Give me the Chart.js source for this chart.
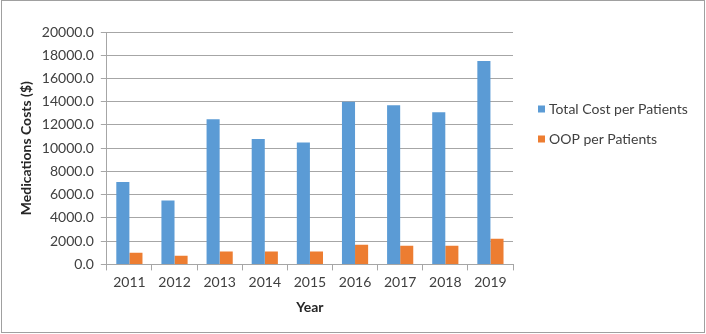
<!DOCTYPE html>
<html>
<head>
<meta charset="utf-8">
<script src="https://cdn.jsdelivr.net/npm/chart.js@4.4.1/dist/chart.umd.min.js"></script>
<style>
html,body{margin:0;padding:0;background:#fff;}
#wrap{width:706px;height:334px;position:relative;}
</style>
</head>
<body>
<div id="wrap"><canvas id="c" width="706" height="334"></canvas></div>
<script>
const years = ["2011","2012","2013","2014","2015","2016","2017","2018","2019"];
const totalCost = [7100, 5500, 12500, 10800, 10500, 14000, 13700, 13100, 17500];
const oopCost = [1000, 750, 1100, 1100, 1100, 1700, 1600, 1600, 2200];
const seriesNames = ["Total Cost per Patients", "OOP per Patients"];
const seriesColors = ["#5b9bd5", "#ed7d31"];
const yTitle = "Medications Costs ($)";
const xTitle = "Year";

const FONT = "Lato, 'Liberation Sans', sans-serif";
const GRID = "#a6a6a6";

const frame = {
  id: 'frame',
  beforeDraw(chart) {
    const ctx = chart.ctx;
    ctx.save();
    ctx.fillStyle = '#fff';
    ctx.fillRect(0, 0, chart.width, chart.height);
    ctx.strokeStyle = '#a0a0a0';
    ctx.lineWidth = 1;
    ctx.strokeRect(1.5, 0.5, chart.width - 3, chart.height - 2);
    ctx.restore();
  }
};

const sideLegend = {
  id: 'sideLegend',
  afterDraw(chart) {
    const ctx = chart.ctx;
    const a = chart.chartArea;
    ctx.save();
    ctx.font = "14px " + FONT;
    ctx.textBaseline = 'middle';
    chart.data.datasets.forEach((ds, i) => {
      const y = a.top + 77 + i * 30;
      const x = a.right + 25;
      ctx.fillStyle = ds.backgroundColor;
      ctx.fillRect(x, y - 3.5, 7, 7);
      ctx.fillStyle = '#404040';
      ctx.fillText(ds.label, x + 11, y);
    });
    ctx.restore();
  }
};

new Chart(document.getElementById('c'), {
  type: 'bar',
  data: {
    labels: years,
    datasets: [
      { label: seriesNames[0], data: totalCost, backgroundColor: seriesColors[0], categoryPercentage: 0.58, barPercentage: 1.0 },
      { label: seriesNames[1], data: oopCost, backgroundColor: seriesColors[1], categoryPercentage: 0.58, barPercentage: 1.0 }
    ]
  },
  options: {
    responsive: false,
    animation: false,
    devicePixelRatio: 1,
    layout: { padding: { left: 14, right: 193, top: 32, bottom: 14 } },
    plugins: { legend: { display: false }, tooltip: { enabled: false } },
    scales: {
      x: {
        offset: true,
        grid: { offset: true, drawOnChartArea: false, color: GRID, tickLength: 6 },
        border: { color: GRID },
        ticks: { color: '#404040', font: { family: FONT, size: 14 }, padding: 4 },
        title: { display: true, text: xTitle, color: '#262626', font: { family: FONT, size: 14, weight: 'bold' }, padding: { top: 4 } }
      },
      y: {
        min: 0, max: 20000,
        grid: { color: GRID, tickLength: 6 },
        border: { color: GRID },
        ticks: { stepSize: 2000, color: '#404040', font: { family: FONT, size: 14 }, padding: 7,
          callback: v => Number(v).toFixed(1) },
        title: { display: true, text: yTitle, color: '#262626', font: { family: FONT, size: 14, weight: 'bold' }, padding: { bottom: 0 } }
      }
    }
  },
  plugins: [frame, sideLegend]
});
</script>
</body>
</html>
